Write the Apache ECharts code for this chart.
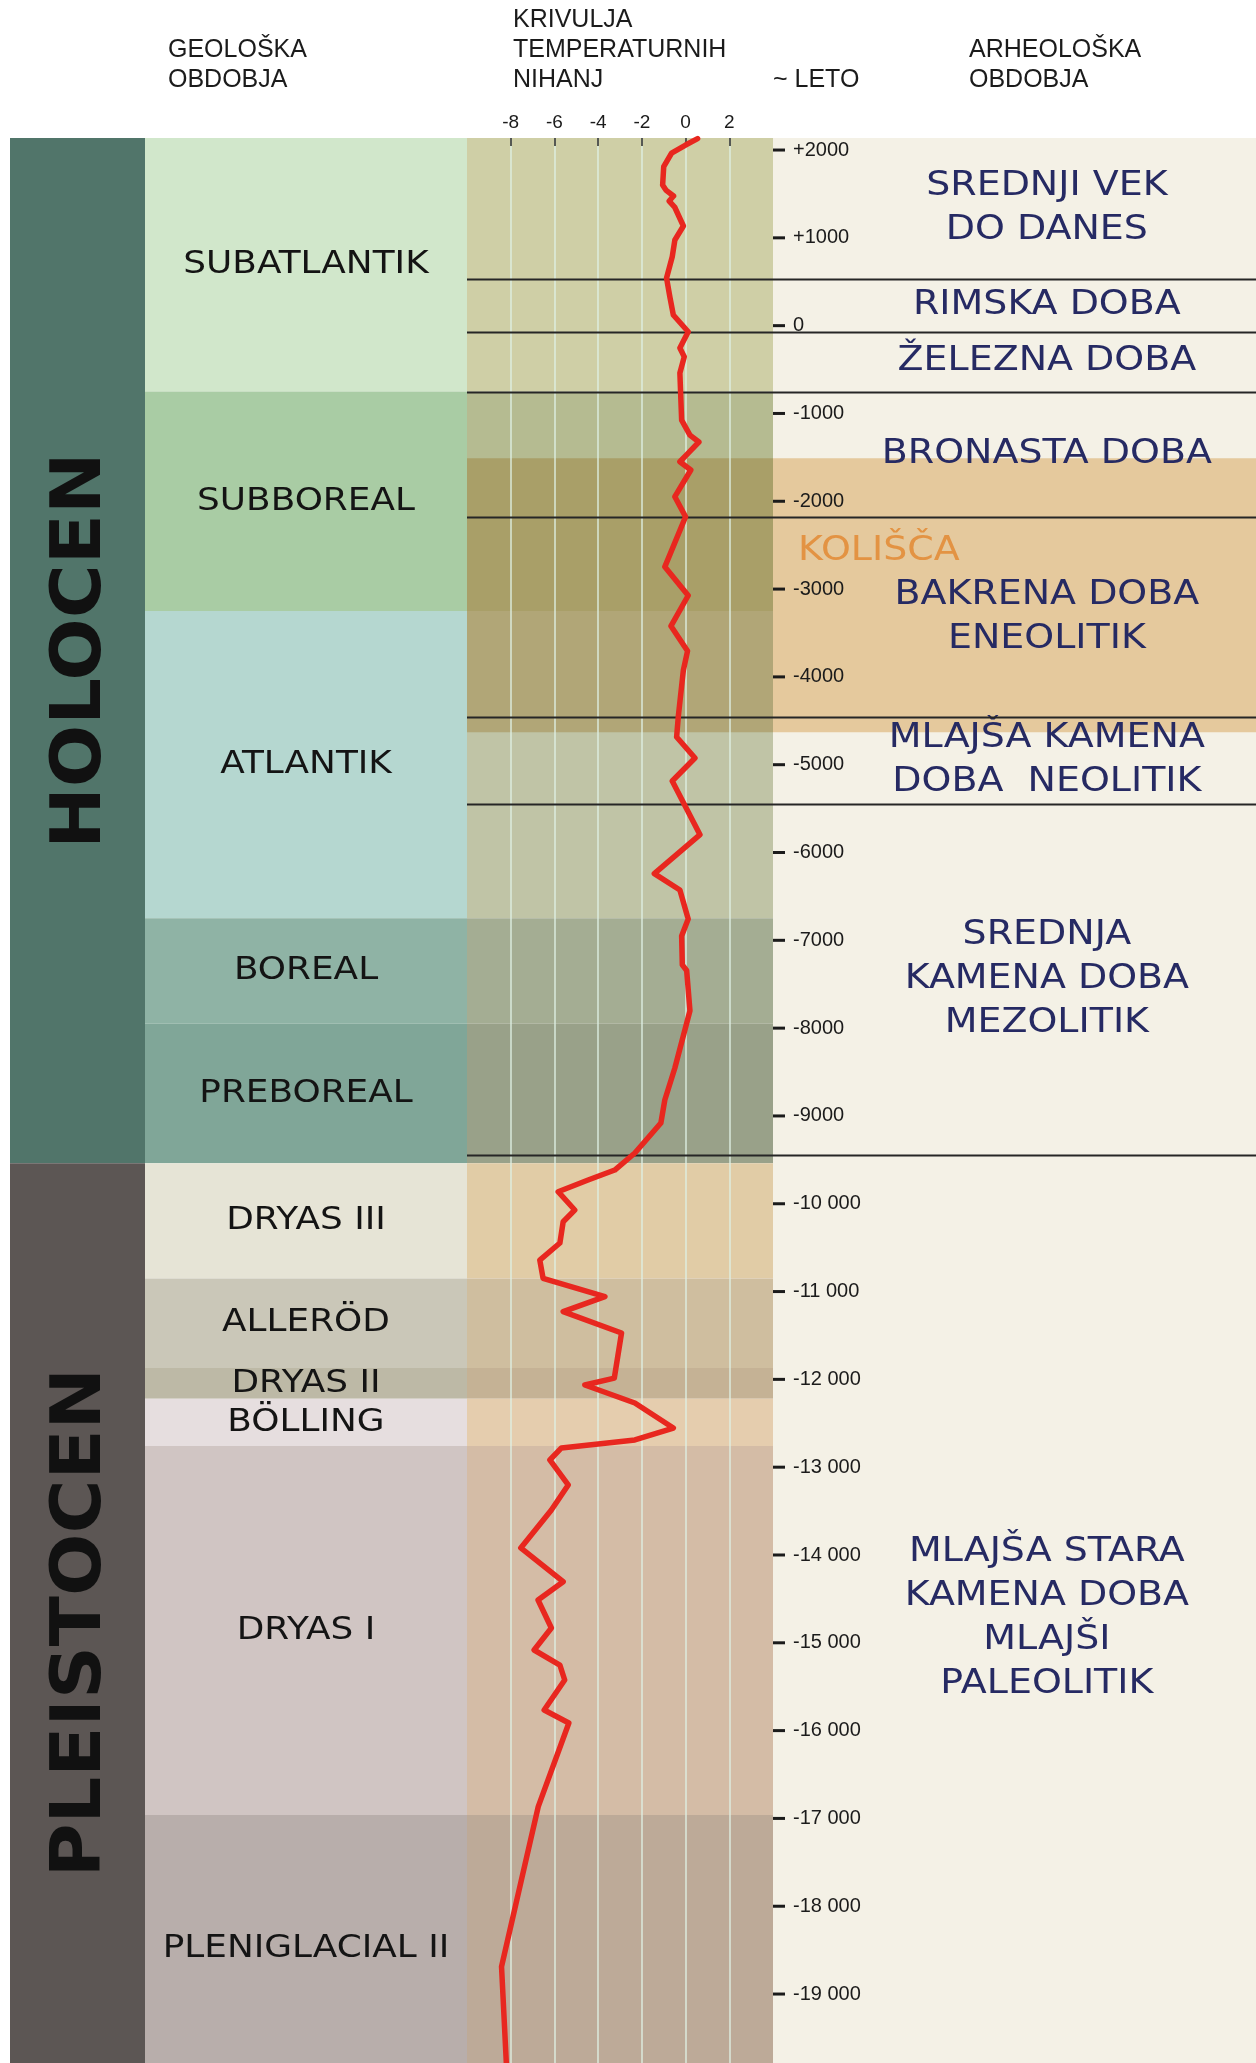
<!DOCTYPE html>
<html>
<head>
<meta charset="utf-8">
<script src="https://cdn.jsdelivr.net/npm/echarts@6/dist/echarts.min.js"></script>
<style>
html,body{margin:0;padding:0;width:1256px;height:2063px;overflow:hidden;background:#ffffff}
#chart{width:1256px;height:2090px}
</style>
</head>
<body>
<div id="chart"></div>
<script>
// ---------------- data ----------------
const yearTop = 2137;
const yearBottom = -20000;

const yearTicks = [2000, 1000, 0, -1000, -2000, -3000, -4000, -5000, -6000, -7000, -8000, -9000,
  -10000, -11000, -12000, -13000, -14000, -15000, -16000, -17000, -18000, -19000];
const yearTickLabels = ['+2000', '+1000', '0', '-1000', '-2000', '-3000', '-4000', '-5000', '-6000', '-7000', '-8000', '-9000',
  '-10 000', '-11 000', '-12 000', '-13 000', '-14 000', '-15 000', '-16 000', '-17 000', '-18 000', '-19 000'];

const tempTicks = [-8, -6, -4, -2, 0, 2];
const tempTickLabels = ['-8', '-6', '-4', '-2', '0', '2'];

const epochNames = ['HOLOCEN', 'PLEISTOCEN'];
const epochBounds = [2137, -9540, -20000];

const geoNames = ['SUBATLANTIK', 'SUBBOREAL', 'ATLANTIK', 'BOREAL', 'PREBOREAL', 'DRYAS III',
  'ALLERÖD', 'DRYAS II', 'BÖLLING', 'DRYAS I', 'PLENIGLACIAL II'];
const geoBounds = [2137, -750, -3250, -6750, -7950, -9540, -10850, -11870, -12220, -12760, -16960, -20000];

const archNames = ['SREDNJI VEK\nDO DANES', 'RIMSKA DOBA', 'ŽELEZNA DOBA', 'BRONASTA DOBA',
  'BAKRENA DOBA\nENEOLITIK', 'MLAJŠA KAMENA\nDOBA  NEOLITIK', 'SREDNJA\nKAMENA DOBA\nMEZOLITIK',
  'MLAJŠA STARA\nKAMENA DOBA\nMLAJŠI\nPALEOLITIK'];
const archBounds = [2137, 530, -70, -750, -2180, -4460, -5450, -9450, -20000];

const kolName = 'KOLIŠČA';
const kolBounds = [-1510, -4630];

const tempYears = [2130, 2057, 1966, 1810, 1601, 1544, 1476, 1419, 1351, 1135, 975, 785, 542, 329, 121,
  -69, -255, -354, -540, -1075, -1246, -1325, -1451, -1550, -1644, -1948, -2176,
  -2747, -3073, -3421, -3705, -3922, -4445, -4685, -4924, -5186, -5797, -6241, -6427,
  -6757, -6951, -7279, -7344, -7802, -8454, -8819, -9081, -9422, -9616, -9730, -9863,
  -10071, -10205, -10447, -10641, -10849, -11058, -11229, -11472, -11985, -12064, -12269,
  -12554, -12690, -12781, -12918, -13202, -13487, -13920, -14304, -14512, -14831, -15082,
  -15253, -15424, -15765, -15913, -16866, -17701, -18689, -19786];
const tempValues = [0.55, 0.0, -0.64, -1.0, -1.05, -0.9, -0.55, -0.75, -0.5, -0.1, -0.49, -0.61, -0.87, -0.72, -0.56,
  0.12, -0.26, -0.06, -0.26, -0.18, 0.2, 0.61, 0.12, -0.26, 0.24, -0.49, 0.0,
  -0.95, 0.12, -0.67, 0.09, -0.1, -0.33, -0.41, 0.43, -0.61, 0.66, -1.43, -0.26,
  0.12, -0.18, -0.15, 0.05, 0.2, -0.49, -0.95, -1.13, -2.32, -3.24, -4.46, -5.83,
  -5.07, -5.6, -5.75, -6.67, -6.52, -3.69, -5.6, -2.93, -3.26, -4.61, -2.32,
  -0.56, -2.32, -5.68, -6.21, -5.37, -6.14, -7.54, -5.6, -6.75, -6.14, -6.93,
  -5.75, -5.53, -6.47, -5.34, -6.74, -7.51, -8.42, -8.2];

// ---------------- styles ----------------
const epochColors = ['#51756a', '#5c5654'];
const geoColors = ['#d1e7cb', '#a9cca4', '#b5d7d0', '#8fb3a5', '#80a698', '#e6e4d6',
  '#cac7b8', '#bdb9a6', '#e6dedf', '#d0c5c3', '#b8aeab'];
const geoTempColors = ['#cfcfa6', '#b5bb91', '#c0c4a6', '#a4ad93', '#99a189', '#e1cca6',
  '#cfbe9f', '#c5b295', '#e5cdae', '#d4bca6', '#bdaa98'];
const archColor = '#f4f1e6';
const kolColor = '#e5c99d';
const kolTempOverlay = 'rgba(143,97,10,0.30)';
const handFont = '"DejaVu Sans", "Noto Sans", sans-serif';
const headFont = '"Liberation Sans", Arial, Helvetica, sans-serif';

const pxPerYear = 0.08781;
const gridTop = 138;
const gridHeight = (yearTop - yearBottom) * pxPerYear;

const columns = [
  {left: 10, width: 135},
  {left: 145, width: 322},
  {left: 467, width: 306},
  {left: 773, width: 483}
];

function spans(bounds) {
  return bounds.slice(0, -1).map((b, i) => [b, bounds[i + 1], i]);
}

function textEl(x, y, text, opt) {
  return {
    type: 'text', x: x, y: y,
    rotation: opt.rotation || 0,
    scaleX: opt.scaleX || 1,
    style: {
      text: text, fill: opt.fill, font: opt.font,
      align: opt.align || 'center', textAlign: opt.align || 'center',
      verticalAlign: 'middle', textVerticalAlign: 'middle',
      lineHeight: opt.lineHeight || undefined
    }
  };
}

function bandSeries(gi, bounds, fills, z, label) {
  return {
    type: 'custom', xAxisIndex: gi, yAxisIndex: gi, z: z, silent: true, clip: false,
    data: spans(bounds),
    renderItem: function (params, api) {
      const cs = params.coordSys;
      const i = api.value(2);
      const y0 = api.coord([0, api.value(0)])[1];
      const y1 = api.coord([0, api.value(1)])[1];
      const children = [];
      if (fills) {
        children.push({type: 'rect', shape: {x: cs.x, y: y0, width: cs.width, height: y1 - y0},
          style: {fill: fills[i]}});
      }
      if (label) {
        children.push(textEl(cs.x + cs.width * label.fx, (y0 + y1) / 2, label.names[i], label));
      }
      return {type: 'group', children: children};
    }
  };
}

function lineSeries(gi, years, z) {
  return {
    type: 'custom', xAxisIndex: gi, yAxisIndex: gi, z: z, silent: true, clip: false,
    data: years.map(y => [y]),
    renderItem: function (params, api) {
      const cs = params.coordSys;
      const y = Math.round(api.coord([0, api.value(0)])[1]) + 0.5;
      return {type: 'line', shape: {x1: cs.x, y1: y, x2: cs.x + cs.width, y2: y},
        style: {stroke: '#262626', lineWidth: 2}};
    }
  };
}

const grids = columns.map(c => ({left: c.left, width: c.width, top: gridTop, height: gridHeight,
  containLabel: false, outerBoundsMode: 'none', show: false}));

const hiddenX = gi => ({gridIndex: gi, type: 'value', min: 0, max: 1, show: false});
const hiddenY = gi => ({gridIndex: gi, type: 'value', min: yearBottom, max: yearTop, show: false});

const xAxes = [hiddenX(0), hiddenX(1), {
  gridIndex: 2, type: 'value', min: -10, max: 4, interval: 2, position: 'top', z: 10,
  axisLine: {show: false, onZero: false},
  axisTick: {show: true, inside: true, length: 8, customValues: tempTicks,
    lineStyle: {color: '#2a2a2a', width: 1.5}},
  axisLabel: {show: true, margin: 6, customValues: tempTicks,
    formatter: v => { const i = tempTicks.indexOf(v); return i < 0 ? '' : tempTickLabels[i]; },
    fontFamily: headFont, fontSize: 19, color: '#1b1b1b'},
  splitLine: {show: true,
    lineStyle: {color: 'rgba(222,240,228,0.85)', width: 1.6}}
}, hiddenX(3)];

const yAxes = [hiddenY(0), hiddenY(1), hiddenY(2), {
  gridIndex: 3, type: 'value', min: yearBottom, max: yearTop, interval: 1000, z: 10,
  axisLine: {show: false, onZero: false}, axisTick: {show: false}, splitLine: {show: false},
  axisLabel: {
    show: true, inside: true, margin: 0, customValues: yearTicks,
    formatter: v => { const i = yearTicks.indexOf(v); return i < 0 ? '' : '{d|}{v|' + yearTickLabels[i] + '}'; },
    rich: {
      d: {width: 12, height: 3, backgroundColor: '#1b1b1b', verticalAlign: 'middle'},
      v: {fontFamily: headFont, fontSize: 20, color: '#1b1b1b', padding: [0, 0, 0, 8], verticalAlign: 'middle'}
    }
  }
}];

const series = [
  bandSeries(0, epochBounds, epochColors, 1,
    {names: epochNames, fx: 0.533, rotation: Math.PI / 2, scaleX: 1.05,
      font: 'bold 70px ' + handFont, fill: '#111111'}),
  bandSeries(1, geoBounds, geoColors, 1,
    {names: geoNames, fx: 0.5, scaleX: 1.12, font: '32px ' + handFont, fill: '#141414'}),
  bandSeries(2, geoBounds, geoTempColors, 1, null),
  {
    type: 'custom', xAxisIndex: 2, yAxisIndex: 2, z: 2, silent: true,
    data: [[kolBounds[0], kolBounds[1]]],
    renderItem: function (params, api) {
      const cs = params.coordSys;
      const y0 = api.coord([0, api.value(0)])[1], y1 = api.coord([0, api.value(1)])[1];
      return {type: 'rect', shape: {x: cs.x, y: y0, width: cs.width, height: y1 - y0}, style: {fill: kolTempOverlay}};
    }
  },
  bandSeries(3, archBounds, archBounds.slice(0, -1).map(() => archColor), 1, null),
  {
    type: 'custom', xAxisIndex: 3, yAxisIndex: 3, z: 2, silent: true,
    data: [[kolBounds[0], kolBounds[1]]],
    renderItem: function (params, api) {
      const cs = params.coordSys;
      const y0 = api.coord([0, api.value(0)])[1], y1 = api.coord([0, api.value(1)])[1];
      return {type: 'group', children: [
        {type: 'rect', shape: {x: cs.x, y: y0, width: cs.width, height: y1 - y0}, style: {fill: kolColor}},
        textEl(cs.x + cs.width * 0.052, y0 + (y1 - y0) * 0.34, kolName,
          {align: 'left', scaleX: 1.15, font: '33px ' + handFont, fill: '#e39343'})
      ]};
    }
  },
  bandSeries(3, archBounds, null, 3,
    {names: archNames, fx: 0.567, scaleX: 1.15, lineHeight: 44, font: '33px ' + handFont, fill: '#262a63'}),
  lineSeries(2, archBounds.slice(1, -1), 15),
  lineSeries(3, archBounds.slice(1, -1), 15),
  {
    type: 'line', xAxisIndex: 2, yAxisIndex: 2, z: 20, silent: true,
    data: tempYears.map((y, i) => [tempValues[i], y]),
    symbol: 'none', smooth: false,
    lineStyle: {color: '#e8271f', width: 5.5, cap: 'round', join: 'round'}
  }
];

const headStyle = {font: '25px ' + headFont, fill: '#1b1b1b', lineHeight: 30};
const graphic = [
  {type: 'text', left: 168, top: 35, style: Object.assign({text: 'GEOLOŠKA\nOBDOBJA'}, headStyle)},
  {type: 'text', left: 513, top: 5, style: Object.assign({text: 'KRIVULJA\nTEMPERATURNIH\nNIHANJ'}, headStyle)},
  {type: 'text', left: 773, top: 65, style: Object.assign({text: '~ LETO'}, headStyle)},
  {type: 'text', left: 969, top: 35, style: Object.assign({text: 'ARHEOLOŠKA\nOBDOBJA'}, headStyle)}
];

const chart = echarts.init(document.getElementById('chart'), null, {renderer: 'canvas'});
chart.setOption({
  animation: false,
  backgroundColor: '#ffffff',
  grid: grids,
  xAxis: xAxes,
  yAxis: yAxes,
  graphic: graphic,
  series: series
});
</script>
</body>
</html>
